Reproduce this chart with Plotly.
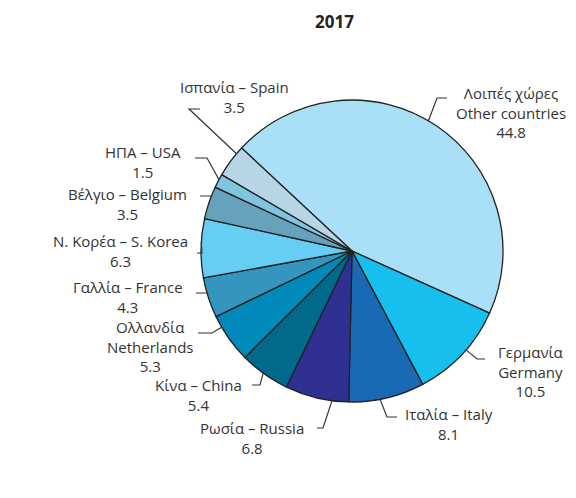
import math
import plotly.graph_objects as go

# data
names_gr = ["Λοιπές χώρες", "Γερμανία", "Ιταλία", "Ρωσία", "Κίνα", "Ολλανδία",
            "Γαλλία", "Ν. Κορέα", "Βέλγιο", "ΗΠΑ", "Ισπανία"]
names_en = ["Other countries", "Germany", "Italy", "Russia", "China", "Netherlands",
            "France", "S. Korea", "Belgium", "USA", "Spain"]
shares = [44.8, 10.5, 8.1, 6.8, 5.4, 5.3, 4.3, 6.3, 3.5, 1.5, 3.5]
year = "2017"

colors = ["#AADFF8", "#17BFEF", "#1A69B4", "#2E3192", "#00698C", "#0089B9",
          "#3496BE", "#67CEF3", "#66A2BB", "#7EC5E2", "#B6D6E5"]

W, H = 576, 498
OFF = 8  # page body margin, screen px -> figure px
CX, CY, R = 352, 251, 151
ROTATION = 313
FONT = "Open Sans, Noto Sans, sans-serif"
TXT = "#333333"

# label placement in screen pixels: where on the slice the leader starts (fraction),
# elbow point, tick end, centre of the text block, stacked text or not
label_pos = [
    (0.48, (437, 98), (447, 98), (511, 113), True),
    (0.44, (477, 359), (485, 359), (530, 371), True),
    (0.59, (387, 417), (397, 417), (449, 424), False),
    (0.26, (323, 428), (317, 428), (252, 438), False),
    (0.53, (260, 385), (252, 385), (198, 395), False),
    (0.76, (212, 333), (198, 333), (150, 346), True),
    (0.62, (207, 293), (196, 293), (128, 297), False),
    (0.60, (202, 253), (197, 253), (120, 251), False),
    (0.70, (210, 196), (200, 196), (127, 204), False),
    (0.60, (207, 158), (195, 158), (143, 162), False),
    (0.77, (189, 109), (200, 109), (234, 97), False),
]


def px(x, y):
    return (x - OFF) / W, 1 - (y - OFF) / H


fig = go.Figure()
d0 = px(CX - R, CY + R)
d1 = px(CX + R, CY - R)
fig.add_trace(go.Pie(
    values=shares,
    labels=[f"{g} – {e}" for g, e in zip(names_gr, names_en)],
    sort=False,
    direction="clockwise",
    rotation=ROTATION,
    marker=dict(colors=colors, line=dict(color="#222222", width=1.3)),
    textinfo="none",
    hoverinfo="label+value",
    showlegend=False,
    domain=dict(x=[d0[0], d1[0]], y=[d0[1], d1[1]]),
))

total = sum(shares)
cum = 0
shapes = []
annotations = []
for i, v in enumerate(shares):
    frac, elbow, tick, centre, stacked = label_pos[i]
    ang = math.radians(ROTATION + 360 * (cum + frac * v) / total)
    cum += v
    ex, ey = CX + R * math.sin(ang), CY - R * math.cos(ang)
    p0, p1, p2 = px(ex, ey), px(*elbow), px(*tick)
    shapes.append(dict(
        type="path", xref="paper", yref="paper",
        path=f"M {p0[0]},{p0[1]} L {p1[0]},{p1[1]} L {p2[0]},{p2[1]}",
        line=dict(color="#333333", width=1.2),
    ))
    if stacked:
        text = f"{names_gr[i]}<br>{names_en[i]}<br>{v}"
    else:
        text = f"{names_gr[i]} – {names_en[i]}<br>{v}"
    cx, cy = px(*centre)
    annotations.append(dict(
        x=cx, y=cy, xref="paper", yref="paper", text=text, showarrow=False,
        xanchor="center", yanchor="middle", align="center",
        font=dict(family=FONT, size=15, color=TXT),
    ))

tx, _ = px(334, 0)
annotations.append(dict(
    x=tx, y=1, xref="paper", yref="paper", text=f"<b>{year}</b>", showarrow=False,
    xanchor="center", yanchor="top", font=dict(family=FONT, size=17, color="#222222"),
))

fig.update_layout(
    width=W, height=H,
    margin=dict(l=0, r=0, t=0, b=0),
    paper_bgcolor="white",
    plot_bgcolor="white",
    shapes=shapes,
    annotations=annotations,
)

fig.write_html("out.html")
